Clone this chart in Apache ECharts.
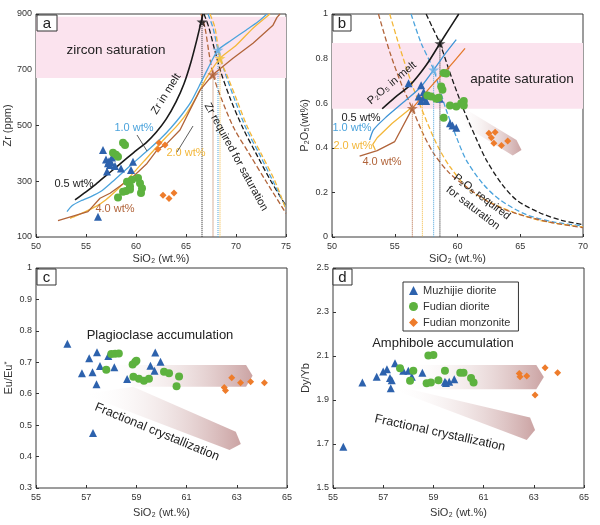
<!DOCTYPE html>
<html>
<head>
<meta charset="utf-8">
<script src="https://cdn.jsdelivr.net/npm/echarts@6/dist/echarts.min.js"></script>
<style>
  html, body { margin: 0; padding: 0; background: #fff; }
  #chart { width: 600px; height: 525px; }
</style>
</head>
<body>
<div id="chart"></div>
<script>
// ---------- panel a : Zr (ppm) vs SiO2 ----------
var aMuzhijie = [[56.7,412],[57.0,378],[57.3,372],[57.4,358],[57.1,335],[57.6,385],[57.2,365],[57.5,368],
                 [57.9,355],[58.5,346],[59.7,370],[59.5,340],[56.2,173]];
var aFudianDiorite = [[58.7,438],[58.9,430],[57.7,402],[58.0,395],[58.2,388],[59.1,298],[59.4,282],[60.2,312],
                      [60.4,293],[59.0,265],[59.4,270],[58.7,262],[60.6,275],[58.2,242],[60.5,258],[59.6,305]];
var aFudianMonzonite = [[62.3,438],[62.2,415],[62.9,430],[62.7,250],[63.3,238],[63.8,258]];
var zirconBand = [670, 890];

var aMelt05 = [[53.9,233],[55,262],[56,290],[57,320],[58,350],[59,380],[60,410],[61,438],[62,475],[63,522],
               [64,585],[64.8,650],[65.5,728],[66.1,810],[66.6,885],[66.7,900]];
var aMelt10 = [[53.1,191],[53.6,212],[54.5,230],[55.5,245],[56.5,264],[57.5,294],[58.5,326],[59.5,358],
               [60.5,390],[61.5,421],[62.5,454],[63.5,492],[64.5,535],[65.5,585],[66.3,640],[67.2,705],
               [68.2,771],[69.5,805],[71,842],[72.2,872],[73.1,900]];
var aMelt20 = [[53.4,167],[54,176],[55,192],[56,210],[57,234],[58,266],[59,302],[60,340],[61,380],[62,420],
               [63,458],[64,495],[65,540],[66,600],[67,668],[68.4,741],[70,787],[71.7,849],[73.4,900]];
var aMelt40 = [[52.2,159],[55.2,191],[56.4,239],[57.4,257],[59.7,316],[61.1,364],[62.1,412],[63.1,436],
               [64.4,484],[65.4,556],[66.4,627],[67.7,683],[69.7,741],[71.7,795],[73.7,860],[74.1,888],[74.4,900]];
var aReq05 = [[66.8,900],[67.3,850],[67.8,780],[68.5,690],[69.5,590],[70.7,490],[72.0,400],[73.5,300],[75,212]];
var aReq10 = [[67.2,900],[67.7,850],[68.2,771],[68.9,690],[69.9,590],[71.0,490],[72.3,400],[73.7,300],[75,205]];
var aReq20 = [[67.4,900],[67.9,850],[68.4,741],[69.1,680],[70.1,590],[71.2,490],[72.5,400],[73.9,300],[75,198]];
var aReq40 = [[66.5,900],[66.9,850],[67.3,760],[67.7,683],[68.5,600],[69.8,490],[71.3,400],[73.0,300],[75,185]];
var aStars = [[66.6,872],[68.2,771],[68.4,741],[67.7,683]];

// ---------- panel b : P2O5 (wt%) vs SiO2 ----------
var bMuzhijie = [[56.1,0.69],[57.1,0.68],[56.9,0.63],[57.3,0.625],[57.6,0.635],[57.1,0.61],[57.5,0.61],
                 [57.3,0.65],[58.6,0.62],[59.4,0.51],[59.6,0.50],[59.9,0.49]];
var bFudianDiorite = [[58.9,0.735],[59.1,0.733],[58.7,0.675],[58.8,0.66],[57.6,0.635],[57.9,0.63],[58.3,0.62],
                      [59.4,0.59],[59.9,0.585],[60.3,0.60],[60.5,0.61],[60.5,0.59],[58.9,0.535],[58.5,0.625]];
var bFudianMonzonite = [[62.5,0.465],[63.0,0.47],[62.7,0.445],[62.9,0.42],[63.5,0.41],[64.0,0.43]];
var apatiteBand = [0.575, 0.87];

var bMelt05 = [[54.0,0.575],[55.0,0.625],[56.2,0.68],[57.5,0.77],[58.6,0.868],[59.3,0.93],[60.1,1.0]];
var bMelt10 = [[53.0,0.435],[53.3,0.48],[54.2,0.532],[55.9,0.614],[57.1,0.674],[58.1,0.749],[59.0,0.82],[59.9,0.885]];
var bMelt20 = [[53.45,0.39],[53.25,0.415],[53.6,0.445],[54.8,0.51],[56.3,0.578]];
var bMelt40 = [[52.2,0.363],[53.6,0.387],[55.0,0.428],[56.4,0.577]];
var bMelt40up = [[56.4,0.577],[57.2,0.63],[58.1,0.689],[59.3,0.76],[60.6,0.846]];
var bReq05 = [[57.5,1.0],[58.0,0.94],[58.6,0.868],[59.5,0.72],[60.5,0.57],[61.5,0.44],[62.3,0.345],
              [63.5,0.24],[64.7,0.166],[66.5,0.11],[68.3,0.075],[70,0.055]];
var bReq10 = [[56.3,1.0],[57.1,0.87],[58.1,0.75],[58.6,0.66],[59.1,0.57],[59.9,0.45],[60.7,0.345],
              [62.0,0.24],[63.4,0.166],[65.5,0.1],[67.8,0.066],[70,0.05]];
var bReq20 = [[54.6,1.0],[55.4,0.85],[56.4,0.68],[57.5,0.525],[58.4,0.41],[59.4,0.315],[61.0,0.21],
              [63.4,0.135],[66.5,0.075],[70,0.045]];
var bReq40 = [[53.7,1.0],[54.6,0.83],[55.5,0.69],[56.4,0.575],[57.2,0.47],[58.1,0.375],[59.3,0.29],
              [60.7,0.225],[62.7,0.15],[64.7,0.105],[67.5,0.065],[70,0.042]];
var bStars = [[58.6,0.868],[58.1,0.75],[56.4,0.577]];
var bDrops = [[58.6,0.868],[58.1,0.75],[57.2,0.62],[56.4,0.577]];
var bArrow = [[60.3,0.585],[64.7,0.435],[65.1,0.39],[64.4,0.365],[59.9,0.52]];

// ---------- panel c : Eu/Eu* vs SiO2 ----------
var cMuzhijie = [[56.25,0.759],[56.83,0.665],[57.12,0.713],[57.25,0.668],[57.43,0.732],[57.41,0.630],
                 [57.55,0.688],[57.88,0.72],[58.12,0.684],[58.63,0.647],[59.56,0.689],[59.75,0.731],
                 [59.72,0.673],[59.96,0.702],[57.27,0.475]];
var cFudianDiorite = [[57.8,0.676],[58.0,0.726],[58.15,0.727],[58.3,0.728],[58.85,0.693],[58.95,0.701],
                      [59.0,0.705],[58.88,0.654],[59.1,0.648],[59.3,0.641],[59.5,0.648],[60.1,0.670],
                      [60.3,0.665],[60.7,0.655],[60.6,0.624]];
var cFudianMonzonite = [[62.8,0.651],[62.5,0.62],[62.55,0.61],[63.15,0.635],[63.55,0.638],[64.1,0.635]];
var cArrowUp = [[57.5,0.691],[63.37,0.691],[63.63,0.657],[63.37,0.622],[58.87,0.622]];
var cArrowDown = [[58.87,0.622],[62.96,0.479],[63.16,0.44],[62.71,0.421],[56.9,0.598]];

// ---------- panel d : Dy/Yb vs SiO2 ----------
var dMuzhijie = [[55.41,1.688],[56.17,1.979],[56.74,2.006],[57.0,2.03],[57.15,2.04],[57.47,2.067],[57.27,2.0],
                 [57.34,1.99],[57.3,1.953],[57.8,2.033],[58.0,2.033],[58.14,2.006],[58.56,2.024],
                 [59.46,1.983],[59.63,1.983],[59.83,1.994],[59.5,1.977]];
var dFudianDiorite = [[58.8,2.102],[59.0,2.104],[57.67,2.044],[58.07,1.988],[58.2,2.033],[58.73,1.976],
                      [58.9,1.98],[59.2,1.99],[59.46,2.033],[60.07,2.024],[60.2,2.024],[60.5,2.0],[60.6,1.98]];
var dFudianMonzonite = [[62.42,2.021],[62.45,2.006],[62.72,2.009],[63.45,2.047],[63.95,2.024],[63.05,1.923]];
var dArrowUp = [[57.6,2.059],[63.1,2.059],[63.4,2.005],[63.1,1.949],[58.07,1.949]];
var dArrowDown = [[58.07,1.949],[62.85,1.821],[63.05,1.764],[62.72,1.718],[57.27,1.953]];

// tick labels
var aXTicks = [50,55,60,65,70,75], aYTicks = [100,300,500,700,900];
var bXTicks = [50,55,60,65,70], bYTicks = [0,0.2,0.4,0.6,0.8,1];
var cdXTicks = [55,57,59,61,63,65];
var cYTicks = [0.3,0.4,0.5,0.6,0.7,0.8,0.9,1];
var dYTicks = [1.5,1.7,1.9,2.1,2.3,2.5];

var seriesNames = ['Muzhijie diorite', 'Fudian diorite', 'Fudian monzonite'];

var FONT = 'Liberation Sans, Arial, Helvetica, sans-serif';
var C_BLACK = '#1a1a1a', C_BLUE = '#4ba3dc', C_YEL = '#f3b73a', C_BROWN = '#b1643a', C_ORANGE = '#e47a2c';
var C_TRI = '#2d62ad', C_DOT = '#5db23f', C_DIA = '#ee7c2b';
var STAR = 'path://M50,0 L61,35 L98,35 L68,57 L79,91 L50,70 L21,91 L32,57 L2,35 L39,35 Z';

var chart = echarts.init(document.getElementById('chart'));

function grid(l, t, w, h) {
    return {left: l, top: t, width: w, height: h, show: true, borderColor: '#3a3a3a', borderWidth: 1};
}

function xAx(i, min, max, ticks, gap) {
    return {
        type: 'value', gridIndex: i, min: min, max: max,
        name: 'SiO₂ (wt.%)', nameLocation: 'middle', nameGap: gap,
        nameTextStyle: {fontSize: 11, color: '#333', fontFamily: FONT},
        axisLine: {show: false}, splitLine: {show: false},
        axisTick: {show: true, inside: true, length: 3, customValues: ticks, lineStyle: {color: '#333'}},
        axisLabel: {customValues: ticks, fontSize: 9, color: '#333', margin: 5, fontFamily: FONT}
    };
}

function yAx(i, min, max, ticks, name, gap, rich) {
    var ns = {fontSize: 11, color: '#333', fontFamily: FONT};
    if (rich) ns.rich = rich;
    return {
        type: 'value', gridIndex: i, min: min, max: max,
        name: name, nameLocation: 'middle', nameGap: gap, nameTextStyle: ns,
        axisLine: {show: false}, splitLine: {show: false},
        axisTick: {show: true, inside: true, length: 3, customValues: ticks, lineStyle: {color: '#333'}},
        axisLabel: {customValues: ticks, fontSize: 9, color: '#333', margin: 4, fontFamily: FONT}
    };
}

function curve(g, data, color, type, smooth, width) {
    return {
        type: 'line', xAxisIndex: g, yAxisIndex: g, data: data, symbol: 'none', silent: true,
        smooth: smooth, z: 3,
        lineStyle: {color: color, width: width || 1.3, type: type || 'solid'}
    };
}

function scat(g, name, data, symbol, color, size) {
    return {
        type: 'scatter', name: name, xAxisIndex: g, yAxisIndex: g, data: data, silent: true,
        symbol: symbol, symbolSize: size, z: 6, itemStyle: {color: color, opacity: 1}
    };
}

function drops(g, pts, colors, ymin) {
    return pts.map(function (p, k) {
        return curve(g, [p, [p[0], ymin]], colors[k], 'dotted', false, 1);
    });
}

function arrows(g, polys) {
    return {
        type: 'custom', xAxisIndex: g, yAxisIndex: g, silent: true, z: 1,
        data: polys.map(function (p) { return p[0]; }),
        renderItem: function (params, api) {
            var pts = polys[params.dataIndex].map(function (p) { return api.coord(p); });
            return {
                type: 'polygon', shape: {points: pts},
                style: {
                    fill: new echarts.graphic.LinearGradient(0, 0, 1, 0, [
                        {offset: 0, color: 'rgba(255,255,255,0)'},
                        {offset: 1, color: 'rgba(190,140,140,0.8)'}
                    ])
                }
            };
        }
    };
}

function band(g, range) {
    var s = curve(g, [], '#000');
    s.markArea = {
        silent: true, itemStyle: {color: '#fbe3ee'},
        data: [[{xAxis: 'min', yAxis: range[0]}, {xAxis: 'max', yAxis: range[1]}]]
    };
    s.z = 0;
    return s;
}

function stars(g, pts, colors) {
    return {
        type: 'scatter', xAxisIndex: g, yAxisIndex: g, silent: true, symbol: STAR, symbolSize: 11, z: 7,
        data: pts.map(function (p, k) { return {value: p, itemStyle: {color: colors[k]}}; })
    };
}

var series = [];
// panel a
series.push(band(0, zirconBand));
series.push(curve(0, aReq05, C_BLACK, 'dashed', 0.3), curve(0, aReq10, C_BLUE, 'dashed', 0.3),
            curve(0, aReq20, C_YEL, 'dashed', 0.3), curve(0, aReq40, C_BROWN, 'dashed', 0.3));
series = series.concat(drops(0, aStars, [C_BLACK, C_BLUE, C_YEL, C_BROWN], 100));
series.push(curve(0, aMelt05, C_BLACK, 'solid', 0.2, 1.6), curve(0, aMelt10, C_BLUE, 'solid', 0.2),
            curve(0, aMelt20, C_YEL, 'solid', 0.2), curve(0, aMelt40, C_BROWN, 'solid', false));
series.push(scat(0, seriesNames[0], aMuzhijie, 'triangle', C_TRI, 8),
            scat(0, seriesNames[1], aFudianDiorite, 'circle', C_DOT, 8),
            scat(0, seriesNames[2], aFudianMonzonite, 'diamond', C_DIA, 7));
series.push(stars(0, aStars, [C_BLACK, '#6bb3e6', '#f5c33a', C_BROWN]));
// panel b
series.push(band(1, apatiteBand));
series.push(arrows(1, [bArrow]));
series.push(curve(1, bReq05, C_BLACK, 'dashed', 0.3), curve(1, bReq10, C_BLUE, 'dashed', 0.3),
            curve(1, bReq20, C_YEL, 'dashed', 0.3), curve(1, bReq40, C_BROWN, 'dashed', 0.3));
series = series.concat(drops(1, bDrops, [C_BLACK, C_BLUE, C_YEL, C_BROWN], 0));
series.push(curve(1, bMelt05, C_BLACK, 'solid', 0.3, 1.6), curve(1, bMelt10, '#3f94d6', 'solid', 0.2),
            curve(1, bMelt20, C_YEL, 'solid', false), curve(1, bMelt40, C_BROWN, 'solid', false),
            curve(1, bMelt40up, C_ORANGE, 'solid', 0.2));
series.push(scat(1, seriesNames[0], bMuzhijie, 'triangle', C_TRI, 8),
            scat(1, seriesNames[1], bFudianDiorite, 'circle', C_DOT, 8),
            scat(1, seriesNames[2], bFudianMonzonite, 'diamond', C_DIA, 7));
series.push(stars(1, bStars, [C_BLACK, '#6bb3e6', C_BROWN]));
// panel c
series.push(arrows(2, [cArrowDown, cArrowUp]));
series.push(scat(2, seriesNames[0], cMuzhijie, 'triangle', C_TRI, 8),
            scat(2, seriesNames[1], cFudianDiorite, 'circle', C_DOT, 8),
            scat(2, seriesNames[2], cFudianMonzonite, 'diamond', C_DIA, 7));
// panel d
series.push(arrows(3, [dArrowDown, dArrowUp]));
series.push(scat(3, seriesNames[0], dMuzhijie, 'triangle', C_TRI, 8),
            scat(3, seriesNames[1], dFudianDiorite, 'circle', C_DOT, 8),
            scat(3, seriesNames[2], dFudianMonzonite, 'diamond', C_DIA, 7));

function txt(x, y, s, size, color, rot) {
    return {
        type: 'text', x: x, y: y, rotation: rot || 0, z: 100,
        style: {text: s, fontSize: size, fontFamily: FONT, fill: color || '#222', align: 'center', verticalAlign: 'middle'}
    };
}
function tag(x, y, w, h, s) {
    return [
        {type: 'rect', z: 100, shape: {x: x, y: y, width: w, height: h}, style: {fill: '#fff', stroke: '#333', lineWidth: 1}},
        txt(x + w / 2, y + h / 2 + 0.5, s, 15, '#222')
    ];
}
function lead(x1, y1, x2, y2) {
    return {type: 'line', z: 100, shape: {x1: x1, y1: y1, x2: x2, y2: y2}, style: {stroke: '#333', lineWidth: 0.8}};
}

var graphics = [].concat(
    tag(37, 15, 20, 16, 'a'), tag(333, 15, 18, 16, 'b'), tag(37, 269, 19, 16, 'c'), tag(333, 269, 19, 16, 'd'),
    [
        txt(116, 50, 'zircon saturation', 13.5),
        txt(166, 94, 'Zr in melt', 11, '#222', 1.01),
        txt(236, 157, 'Zr required for saturation', 11, '#222', -1.07),
        txt(134, 128, '1.0 wt%', 11, C_BLUE),
        txt(186, 153, '2.0 wt%', 11, C_YEL),
        txt(74, 184, '0.5 wt%', 11, '#222'),
        txt(115, 209, '4.0 wt%', 11, C_BROWN),
        lead(137, 135, 147, 151), lead(177, 152, 193, 126),

        txt(522, 79, 'apatite saturation', 13.5),
        txt(392, 83, 'P₂O₅ in melt', 11, '#222', 0.7),
        txt(482, 197, 'P₂O₅ required', 11, '#222', -0.65),
        txt(473, 208, 'for saturation', 11, '#222', -0.65),
        txt(361, 118, '0.5 wt%', 11, '#222'),
        txt(352, 128, '1.0 wt%', 11, C_BLUE),
        txt(353, 146, '2.0 wt%', 11, C_YEL),
        txt(382, 162, '4.0 wt%', 11, C_BROWN),

        txt(160, 335, 'Plagioclase accumulation', 13),
        txt(157, 432, 'Fractional crystallization', 12.5, '#222', -0.39),
        txt(443, 343, 'Amphibole accumulation', 13),
        txt(440, 433, 'Fractional crystallization', 12.5, '#222', -0.216)
    ]
);

var option = {
    animation: false,
    backgroundColor: '#fff',
    textStyle: {fontFamily: FONT},
    grid: [grid(36, 14, 250, 223), grid(332, 14, 251, 223), grid(36, 268, 251, 220), grid(333, 268, 251, 220)],
    xAxis: [xAx(0, 50, 75, aXTicks, 16), xAx(1, 50, 70, bXTicks, 16),
            xAx(2, 55, 65, cdXTicks, 19), xAx(3, 55, 65, cdXTicks, 19)],
    yAxis: [yAx(0, 100, 900, aYTicks, 'Zr (ppm)', 22),
            yAx(1, 0, 1, bYTicks, 'P₂O₅(wt%)', 22),
            yAx(2, 0.3, 1, cYTicks, '{n|Eu/Eu}{s|*}', 22, {n: {fontSize: 11, color: '#333'}, s: {fontSize: 8, color: '#333', verticalAlign: 'top'}}),
            yAx(3, 1.5, 2.5, dYTicks, 'Dy/Yb', 22)],
    legend: {
        data: seriesNames, orient: 'vertical', left: 403, top: 282, selectedMode: false,
        itemWidth: 9, itemHeight: 9, itemGap: 5, padding: [3, 8, 3, 6],
        borderColor: '#333', borderWidth: 1, backgroundColor: '#fff',
        textStyle: {fontSize: 11, color: '#333', fontFamily: FONT}
    },
    graphic: graphics,
    series: series
};

chart.setOption(option);
</script>
</body>
</html>
